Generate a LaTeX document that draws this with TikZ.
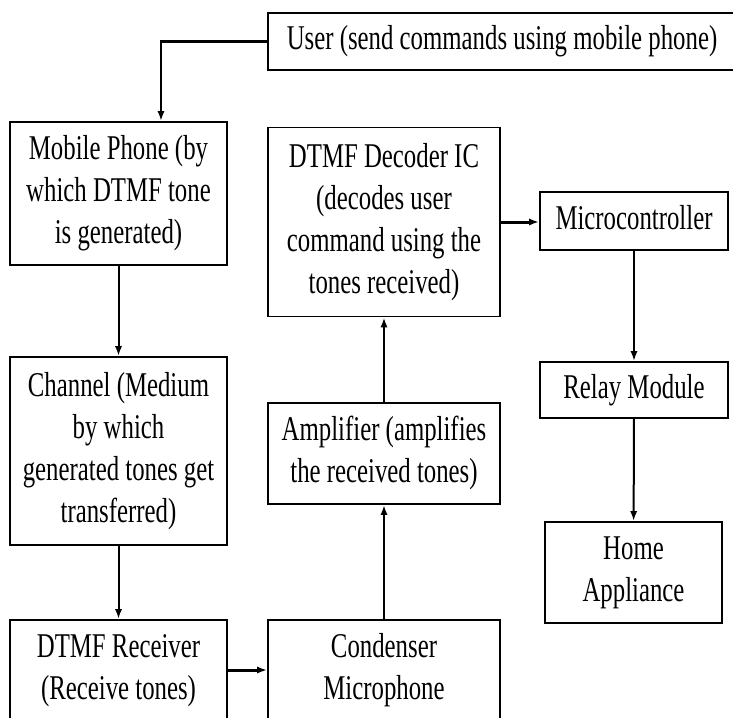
\documentclass[tikz,border=0pt]{standalone}
\usepackage{fontspec}
\setmainfont{Liberation Serif}
\usepackage{graphicx}
\usetikzlibrary{arrows.meta}

% text of a block, stretched upright like the original figure
\newcommand{\blocktext}[1]{\scalebox{1}[1.4]{\begin{tabular}{@{}c@{}}#1\end{tabular}}}

\begin{document}
\begin{tikzpicture}[x=0.5pt,y=-0.5pt,
		block/.style={draw, line width=0.9pt, inner sep=0pt, font=\fontsize{12.4}{15}\selectfont},
		link/.style={-{Latex[length=5pt,width=3.6pt]}, line width=1pt},
		thicklink/.style={link, line width=1.5pt}]
		\useasboundingbox (0,0) rectangle (733,717);
		\clip (0,0) rectangle (733,717);
		% blocks
		\node[block, minimum width=234pt, minimum height=28.5pt] (user) at (502,41.5) {\blocktext{User (send commands using mobile phone)}};
		\node[block, minimum width=108.5pt, minimum height=71.5pt] (mobile) at (118.5,193.5) {\blocktext{Mobile Phone (by\\which DTMF tone\\is generated)}};
		\node[block, minimum width=108.5pt, minimum height=94pt] (channel) at (118.5,451) {\blocktext{Channel (Medium\\by which\\generated tones get\\transferred)}};
		\node[block, minimum width=108.5pt, minimum height=50pt] (receiver) at (118.5,670) {\blocktext{DTMF Receiver\\(Receive tones)}};
		\node[block, minimum width=116pt, minimum height=50pt] (condenser) at (384,670) {\blocktext{Condenser\\Microphone}};
		\node[block, minimum width=116pt, minimum height=50.5pt] (amplifier) at (384,453.5) {\blocktext{Amplifier (amplifies\\the received tones)}};
		\node[block, minimum width=116pt, minimum height=94.5pt] (decoder) at (384,222) {\blocktext{DTMF Decoder IC\\(decodes user\\command using the\\tones received)}};
		\node[block, minimum width=94pt, minimum height=29pt] (micro) at (634,221) {\blocktext{Microcontroller}};
		\node[block, minimum width=94pt, minimum height=28pt] (relay) at (634,390) {\blocktext{Relay Module}};
		\node[block, minimum width=88.5pt, minimum height=50.5pt] (home) at (633.5,572.5) {\blocktext{Home\\Appliance}};
		% connectors
		\coordinate (turn) at (161,41.5);
		\draw[line width=1.8pt] (user.west) -- ([xshift=-0.45pt]turn);
		\draw[link] (turn) -- (turn |- mobile.north);
		\draw[link] (mobile) -- (channel);
		\draw[link] (channel) -- (receiver);
		\draw[thicklink] (receiver) -- (condenser);
		\draw[link] (condenser) -- (amplifier);
		\draw[link] (amplifier) -- (decoder);
		\draw[thicklink] (decoder.east) -- (decoder.east -| micro.west);
		\draw[link] (micro) -- (relay);
		\draw[link] (relay) -- (home);
\end{tikzpicture}
\end{document}
